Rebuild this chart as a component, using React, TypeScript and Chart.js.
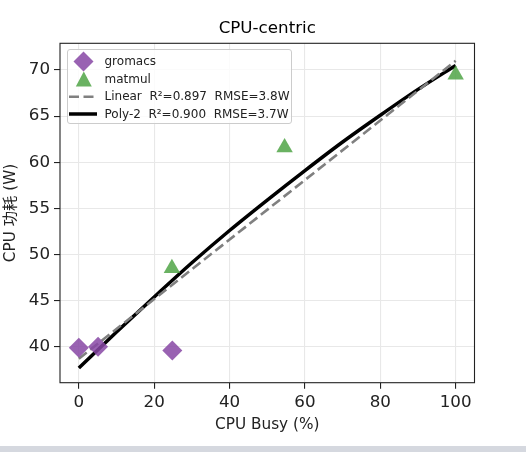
import { useEffect, useRef } from "react";
import { Chart, registerables } from "chart.js";

Chart.register(...registerables);

const FONT = "'DejaVu Sans', 'Noto Sans CJK SC', sans-serif";

const chartTitle = "CPU-centric";
const xLabel = "CPU Busy (%)";
const yLabel = "CPU 功耗 (W)";

const xTickValues = [0, 20, 40, 60, 80, 100];
const yTickValues = [40, 45, 50, 55, 60, 65, 70];

// measured points
const gromacsX = [0, 5.1, 24.8];
const gromacsY = [39.9, 40.0, 39.6];
const matmulX = [24.7, 54.6, 100];
const matmulY = [48.5, 61.6, 69.5];

// fit curves
const linearX = [0, 100];
const linearY = [38.7, 71.0];
const polyX = [0, 10, 20, 30, 40, 50, 60, 70, 80, 90, 100];
const polyY = [37.7, 41.6, 45.4, 49.1, 52.6, 55.9, 59.1, 62.2, 65.1, 67.9, 70.5];

const seriesNames = [
  "gromacs",
  "matmul",
  "Linear  R²=0.897  RMSE=3.8W",
  "Poly-2  R²=0.900  RMSE=3.7W",
];

const PURPLE = "rgba(135, 70, 165, 0.85)";
const GREEN = "rgba(80, 165, 70, 0.85)";

const toPoints = (xs: number[], ys: number[]) => xs.map((x, i) => ({ x, y: ys[i] }));

const framePlugin = {
  id: "frame",
  afterDatasetsDraw(chart: Chart) {
    const { ctx, chartArea } = chart;
    const { left, top, right, bottom } = chartArea;
    ctx.save();
    ctx.strokeStyle = "#222";
    ctx.lineWidth = 1.1;
    ctx.strokeRect(left, top, right - left, bottom - top);
    ctx.restore();
  },
};

const Legend = () => {
  const rows = [61.5, 79, 96.7, 114]; // centre of each row, page px
  const boxTop = 49;
  return (
    <div
      style={{
        position: "absolute",
        left: 67,
        top: boxTop,
        width: 225,
        height: 75,
        border: "1px solid #cccccc",
        borderRadius: 3,
        background: "rgba(255,255,255,0.8)",
        boxSizing: "border-box",
        fontFamily: FONT,
        fontSize: 12,
        color: "#222",
      }}
    >
      <svg
        width={36}
        height={75}
        style={{ position: "absolute", left: 0, top: -1, overflow: "visible" }}
      >
        <polygon
          points={`15.5,${rows[0] - boxTop - 10} 25.5,${rows[0] - boxTop} 15.5,${rows[0] - boxTop + 10} 5.5,${rows[0] - boxTop}`}
          fill={PURPLE}
        />
        <polygon
          points={`15.8,${rows[1] - boxTop - 7.5} 23.8,${rows[1] - boxTop + 7.5} 7.8,${rows[1] - boxTop + 7.5}`}
          fill={GREEN}
        />
        <line
          x1={1}
          x2={28}
          y1={rows[2] - boxTop}
          y2={rows[2] - boxTop}
          stroke="#808080"
          strokeWidth={2.6}
          strokeDasharray="10 4.5"
        />
        <line
          x1={1}
          x2={29}
          y1={rows[3] - boxTop}
          y2={rows[3] - boxTop}
          stroke="#000"
          strokeWidth={3.5}
        />
      </svg>
      {seriesNames.map((name, i) => (
        <div
          key={name}
          style={{
            position: "absolute",
            left: 36.5,
            top: rows[i] - boxTop - 1 - 9.5,
            height: 18,
            lineHeight: "18px",
            whiteSpace: "pre",
          }}
        >
          {name}
        </div>
      ))}
    </div>
  );
};

const App = () => {
  const canvasRef = useRef<HTMLCanvasElement>(null);
  const chartRef = useRef<Chart | null>(null);

  useEffect(() => {
    if (!canvasRef.current) return;
    const ctx = canvasRef.current.getContext("2d");
    if (!ctx) return;
    if (chartRef.current) chartRef.current.destroy();

    chartRef.current = new Chart(ctx, {
      type: "scatter",
      data: {
        datasets: [
          {
            label: seriesNames[0],
            data: toPoints(gromacsX, gromacsY),
            pointStyle: "rectRot",
            pointRadius: 10,
            pointBackgroundColor: PURPLE,
            pointBorderWidth: 0,
            xAxisID: "x",
            yAxisID: "y",
            order: 1,
          },
          {
            label: seriesNames[1],
            data: toPoints(matmulX, matmulY),
            pointStyle: "triangle",
            pointRadius: 9.5,
            pointBackgroundColor: GREEN,
            pointBorderWidth: 0,
            xAxisID: "x",
            yAxisID: "y",
            order: 1,
          },
          {
            label: seriesNames[2],
            data: toPoints(linearX, linearY),
            showLine: true,
            borderColor: "#808080",
            borderWidth: 2.6,
            borderDash: [10, 4.5],
            pointRadius: 0,
            xAxisID: "x",
            yAxisID: "y",
            order: 2,
          },
          {
            label: seriesNames[3],
            data: toPoints(polyX, polyY),
            showLine: true,
            borderColor: "#000",
            borderWidth: 3.5,
            cubicInterpolationMode: "monotone",
            pointRadius: 0,
            xAxisID: "x",
            yAxisID: "y",
            order: 2,
          },
        ],
      },
      options: {
        animation: false,
        responsive: true,
        maintainAspectRatio: false,
        layout: { padding: { left: 0, right: 51.5, top: 0, bottom: 0 } },
        plugins: {
          legend: { display: false },
          tooltip: { enabled: false },
          title: { display: false },
        },
        scales: {
          x: {
            type: "linear",
            position: "bottom",
            min: -5,
            max: 105,
            afterBuildTicks: (s: any) => {
              s.ticks = xTickValues.map((v) => ({ value: v }));
            },
            afterFit: (s: any) => {
              s.height = 63.3;
            },
            ticks: {
              font: { family: FONT, size: 16.7 },
              color: "#222",
              padding: 4,
            },
            grid: {
              color: "#e8e8e8",
              lineWidth: 1.1,
              tickColor: "#222",
              tickLength: 6,
              tickWidth: 1.1,
            },
            border: { display: false },
            title: {
              display: true,
              text: xLabel,
              font: { family: FONT, size: 15.3 },
              color: "#222",
              padding: { top: 0, bottom: 11.6 },
            },
          },
          y: {
            type: "linear",
            position: "left",
            min: 36.1,
            max: 72.9,
            afterBuildTicks: (s: any) => {
              s.ticks = yTickValues.map((v) => ({ value: v }));
            },
            afterFit: (s: any) => {
              s.width = 60;
            },
            ticks: {
              font: { family: FONT, size: 16.7 },
              color: "#222",
              padding: 4,
            },
            grid: {
              color: "#e8e8e8",
              lineWidth: 1.1,
              tickColor: "#222",
              tickLength: 6,
              tickWidth: 1.1,
            },
            border: { display: false },
            title: {
              display: true,
              text: yLabel,
              font: { family: FONT, size: 15.3 },
              color: "#222",
              padding: { top: 1.5, bottom: 0 },
            },
          },
          // holds the chart title so it centres over the plot area
          xTop: {
            type: "linear",
            axis: "x",
            position: "top",
            display: true,
            grid: { display: false },
            border: { display: false },
            ticks: { display: false },
            afterFit: (s: any) => {
              s.height = 43.3;
            },
            title: {
              display: true,
              text: chartTitle,
              font: { family: FONT, size: 16.7 },
              color: "#000",
              padding: { top: 18.5, bottom: 0 },
            },
          },
        },
      },
      plugins: [framePlugin],
    });

    return () => {
      if (chartRef.current) {
        chartRef.current.destroy();
        chartRef.current = null;
      }
    };
  }, []);

  return (
    <div
      style={{
        position: "absolute",
        left: 0,
        top: 0,
        width: 526,
        height: 452,
        background: "#fff",
        overflow: "hidden",
      }}
    >
      <div style={{ position: "absolute", left: 0, top: 0, width: 526, height: 446 }}>
        <canvas ref={canvasRef}></canvas>
      </div>
      <Legend />
      <div
        style={{
          position: "absolute",
          left: 0,
          top: 446,
          width: 526,
          height: 6,
          background: "#d5d8df",
        }}
      />
    </div>
  );
};

export default App;
